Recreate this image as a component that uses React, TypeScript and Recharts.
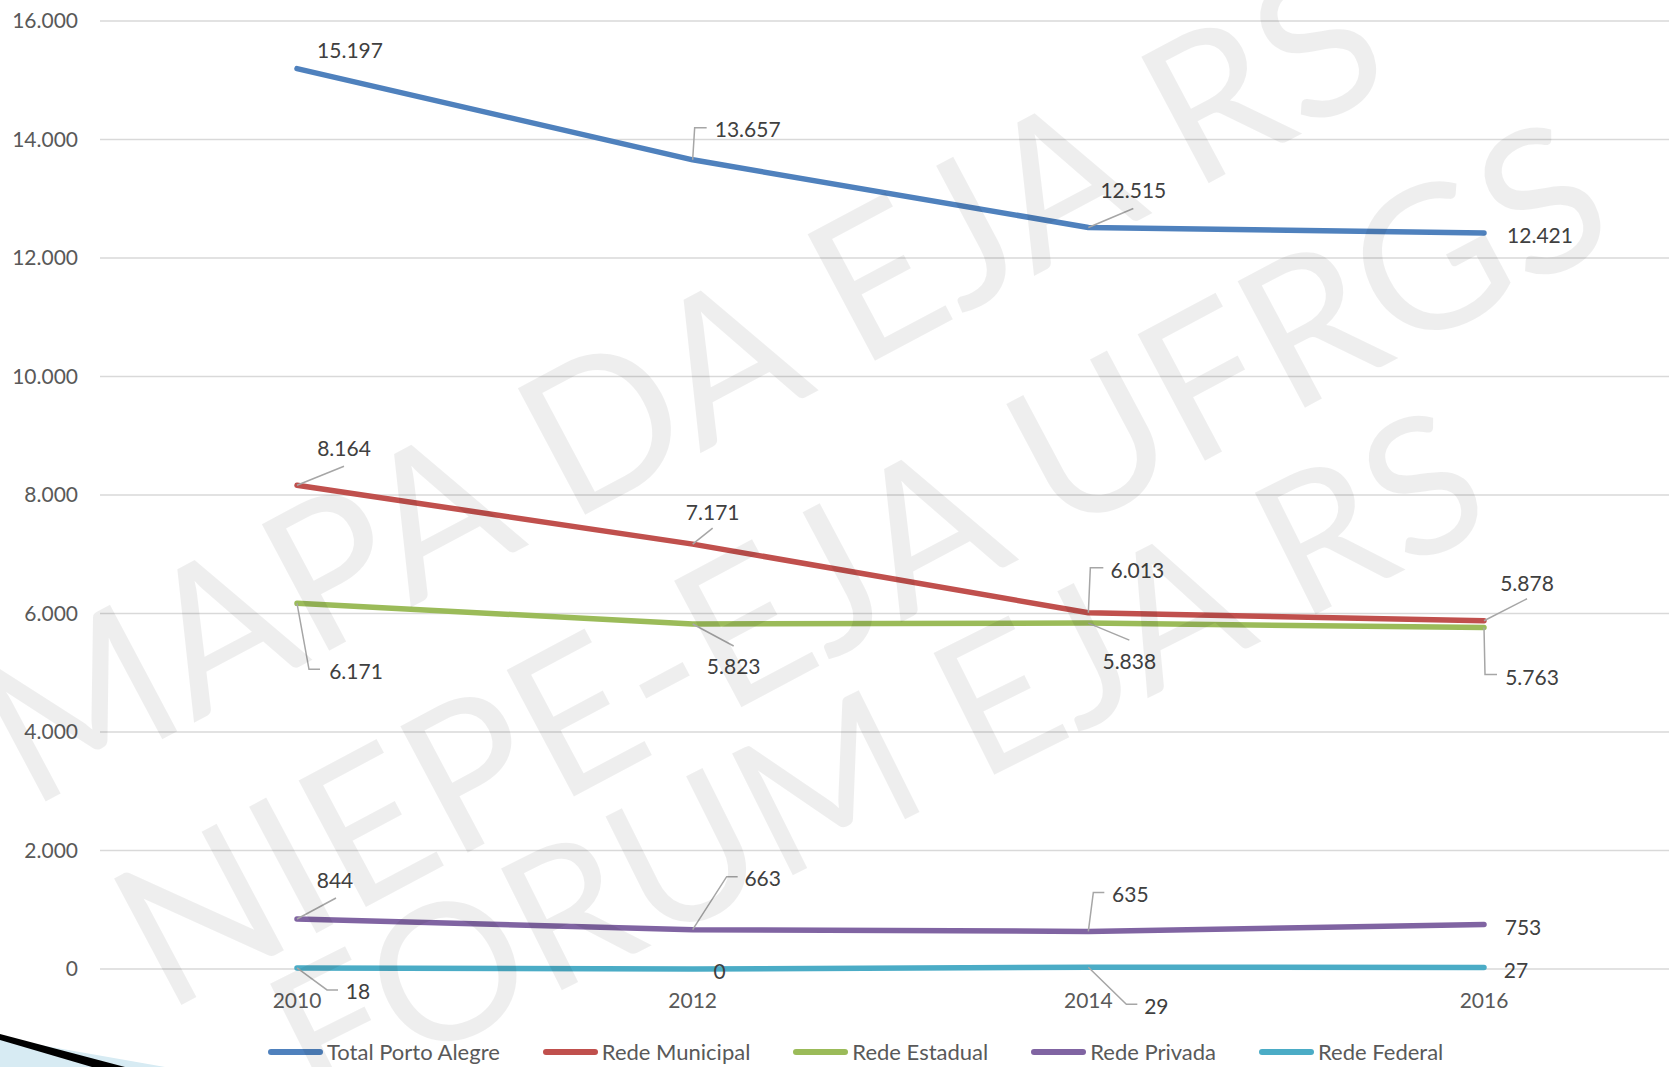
import React from "react";
import { LineChart, Line, XAxis, YAxis, CartesianGrid } from "recharts";

const YEARS = ["2010", "2012", "2014", "2016"];
const TOTAL = [15197, 13657, 12515, 12421];
const MUNICIPAL = [8164, 7171, 6013, 5878];
const ESTADUAL = [6171, 5823, 5838, 5763];
const PRIVADA = [844, 663, 635, 753];
const FEDERAL = [18, 0, 29, 27];
const Y_TICKS = [0, 2000, 4000, 6000, 8000, 10000, 12000, 14000, 16000];
const WATERMARK = ["MAPA DA EJA RS", "NIEPE-EJA UFRGS", "FORUM EJA RS"];

const SERIES = [
  { key: "total", name: "Total Porto Alegre", color: "#4F81BD", values: TOTAL },
  { key: "municipal", name: "Rede Municipal", color: "#C0504D", values: MUNICIPAL },
  { key: "estadual", name: "Rede Estadual", color: "#9BBB59", values: ESTADUAL },
  { key: "privada", name: "Rede Privada", color: "#8064A2", values: PRIVADA },
  { key: "federal", name: "Rede Federal", color: "#4BACC6", values: FEDERAL },
];

const data = YEARS.map((year, i) => {
  const row: Record<string, string | number> = { year };
  SERIES.forEach((s) => (row[s.key] = s.values[i]));
  return row;
});

// label placement relative to each point (px), with optional leader line corners
type LabelPos = { dx: number; dy: number; leader?: number[][] };
const LABEL_POS: Record<string, LabelPos[]> = {
  total: [
    { dx: 53, dy: -19 },
    { dx: 55, dy: -31, leader: [[2, -32], [14, -32]] },
    { dx: 45, dy: -38, leader: [[45, -19]] },
    { dx: 56, dy: 1 },
  ],
  municipal: [
    { dx: 47, dy: -38, leader: [[47, -19]] },
    { dx: 20, dy: -33, leader: [[20, -16]] },
    { dx: 49, dy: -43, leader: [[2, -45], [15, -45]] },
    { dx: 43, dy: -38, leader: [[43, -22]] },
  ],
  estadual: [
    { dx: 59, dy: 67, leader: [[12, 66], [23, 66]] },
    { dx: 41, dy: 42, leader: [[41, 22]] },
    { dx: 41, dy: 37, leader: [[41, 17]] },
    { dx: 48, dy: 49, leader: [[1, 47], [13, 47]] },
  ],
  privada: [
    { dx: 38, dy: -39, leader: [[39, -21]] },
    { dx: 70, dy: -52, leader: [[34, -53], [45, -53]] },
    { dx: 42, dy: -38, leader: [[5, -39], [16, -39]] },
    { dx: 39, dy: 2 },
  ],
  federal: [
    { dx: 61, dy: 23, leader: [[30, 22], [41, 22]] },
    { dx: 27, dy: 1 },
    { dx: 68, dy: 38, leader: [[38, 37], [49, 37]] },
    { dx: 32, dy: 2 },
  ],
};

const FONT = "Lato, Carlito, 'Open Sans', sans-serif";
const fmt = (v: number) => String(v).replace(/\B(?=(\d{3})+(?!\d))/g, ".");

const makeLabel = (key: string) => (props: any) => {
  const { x, y, index, value } = props;
  const o = LABEL_POS[key][index];
  if (!o || x == null || y == null) return null;
  const pts = o.leader ? [[x, y], ...o.leader.map(([a, b]) => [x + a, y + b])] : null;
  return (
    <g key={`${key}-lbl-${index}`}>
      {pts && (
        <polyline
          points={pts.map((p) => p.join(",")).join(" ")}
          fill="none"
          stroke="#a6a6a6"
          strokeWidth={1.5}
        />
      )}
      <text
        x={x + o.dx}
        y={y + o.dy}
        textAnchor="middle"
        dominantBaseline="central"
        fontSize={21}
        fontFamily={FONT}
        fill="#404040"
      >
        {fmt(value)}
      </text>
    </g>
  );
};

// watermark: centre x, centre y, font size, angle
const WM_POS = [
  [678, 378, 200, -28],
  [858, 558, 200, -28],
  [874, 752, 190, -26.5],
];

export default function App() {
  return (
    <div
      style={{
        position: "fixed",
        left: 0,
        top: 0,
        width: 1669,
        height: 1067,
        overflow: "hidden",
        background: "#fff",
      }}
    >
      <LineChart
        width={1682}
        height={1067}
        data={data}
        margin={{ top: 21, right: 0, left: 0, bottom: 48 }}
      >
        <CartesianGrid vertical={false} stroke="#d9d9d9" strokeWidth={1.5} />
        <XAxis
          dataKey="year"
          axisLine={false}
          tickLine={false}
          tickSize={0}
          tickMargin={24}
          height={50}
          padding={{ left: 197, right: 198 }}
          tick={{ fontSize: 21, fill: "#595959", fontFamily: FONT }}
        />
        <YAxis
          domain={[0, 16000]}
          ticks={Y_TICKS}
          width={100}
          axisLine={false}
          tickLine={false}
          tickSize={0}
          tickMargin={22}
          tickFormatter={fmt}
          tick={{ fontSize: 21, fill: "#595959", fontFamily: FONT }}
        />
        {SERIES.map((s) => (
          <Line
            key={s.key}
            type="linear"
            dataKey={s.key}
            name={s.name}
            stroke={s.color}
            strokeWidth={5.5}
            strokeLinecap="round"
            strokeLinejoin="round"
            dot={false}
            activeDot={false}
            isAnimationActive={false}
            label={makeLabel(s.key)}
          />
        ))}
      </LineChart>

      {/* legend */}
      <div
        style={{
          position: "absolute",
          left: 268,
          top: 1038,
          display: "flex",
          alignItems: "center",
          gap: 43,
          fontFamily: FONT,
          fontSize: 22,
          color: "#595959",
          whiteSpace: "nowrap",
        }}
      >
        {SERIES.map((s) => (
          <div key={s.key} style={{ display: "flex", alignItems: "center" }}>
            <span
              style={{
                display: "inline-block",
                width: 55,
                height: 6,
                borderRadius: 3,
                background: s.color,
                marginRight: 4,
              }}
            />
            <span>{s.name}</span>
          </div>
        ))}
      </div>

      {/* watermark + slide decoration */}
      <svg
        width={1669}
        height={1067}
        style={{ position: "absolute", left: 0, top: 0, pointerEvents: "none" }}
      >
        <polygon points="0,1038 165,1067 0,1067" fill="#d7ebf3" />
        <polygon points="0,1034 125,1067 92,1067 0,1040" fill="#000" />
        {WATERMARK.map((t, i) => {
          const [cx, cy, size, angle] = WM_POS[i];
          return (
            <text
              key={t}
              x={cx}
              y={cy}
              textAnchor="middle"
              dominantBaseline="central"
              fontSize={size}
              fontFamily={FONT}
              fill="#000"
              fillOpacity={0.065}
              transform={`rotate(${angle} ${cx} ${cy})`}
            >
              {t}
            </text>
          );
        })}
      </svg>
    </div>
  );
}
